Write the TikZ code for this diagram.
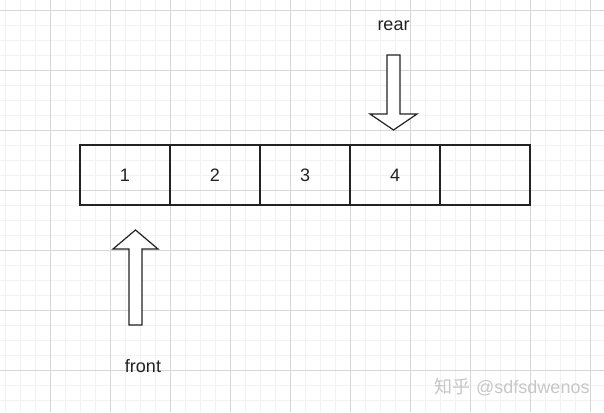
\documentclass[tikz,border=0pt]{standalone}
\usepackage{fontspec}
\setmainfont{Liberation Sans}
\newfontfamily\cjk{Noto Sans CJK SC}
\definecolor{minorgrid}{HTML}{F2F2F2}
\definecolor{majorgrid}{HTML}{D6D6D6}
\definecolor{ink}{HTML}{222222}
\begin{document}
\begin{tikzpicture}[x=1pt,y=-1pt,
  cell/.style={draw=ink,line width=1.2pt,minimum width=90pt,minimum height=60pt,inner sep=0pt,outer sep=0pt,font=\fontsize{18}{18}\selectfont,text=ink},
  label/.style={font=\fontsize{18}{18}\selectfont,text=ink,inner sep=0pt},
  bigarrow/.style={draw=ink,line width=1.2pt,fill=white,line join=miter},
  wmark/.style={font=\fontsize{18}{18}\selectfont,text=black!22,inner sep=0pt,anchor=base west}]
\useasboundingbox (0,0) rectangle (604,412);
\fill[white] (0,0) rectangle (604,412);
% minor grid
\foreach \x in {5,20,...,604} \draw[minorgrid,line width=0.8pt] (\x,0) -- (\x,412);
\foreach \y in {10,25,...,412} \draw[minorgrid,line width=0.8pt] (0,\y) -- (604,\y);
% major grid
\foreach \x in {50,110,...,604} \draw[majorgrid,line width=0.8pt] (\x,0) -- (\x,412);
\foreach \y in {10,70,...,412} \draw[majorgrid,line width=0.8pt] (0,\y) -- (604,\y);
% cells
\node[cell] (c1) at (125,175) {1};
\node[cell] (c2) at (215,175) {2};
\node[cell] (c3) at (305,175) {3};
\node[cell] (c4) at (395,175) {4};
\node[cell] (c5) at (485,175) {};
% rear arrow (down)
\draw[bigarrow] (387,55) -- (400,55) -- (400,114) -- (417,114) -- (393.5,130) -- (370,114) -- (387,114) -- cycle;
% front arrow (up)
\draw[bigarrow] (129,325) -- (142,325) -- (142,249) -- (158,249) -- (135.5,230) -- (113,249) -- (129,249) -- cycle;
\node[label] (rear) at (393.5,26) {rear};
\node[label] (front) at (143,366) {front};
% watermark
\node[wmark] (wm1) at (434,393) {\cjk 知乎};
\node[wmark] (wm2) at (476,393) {@sdfsdwenos};
\end{tikzpicture}
\end{document}
